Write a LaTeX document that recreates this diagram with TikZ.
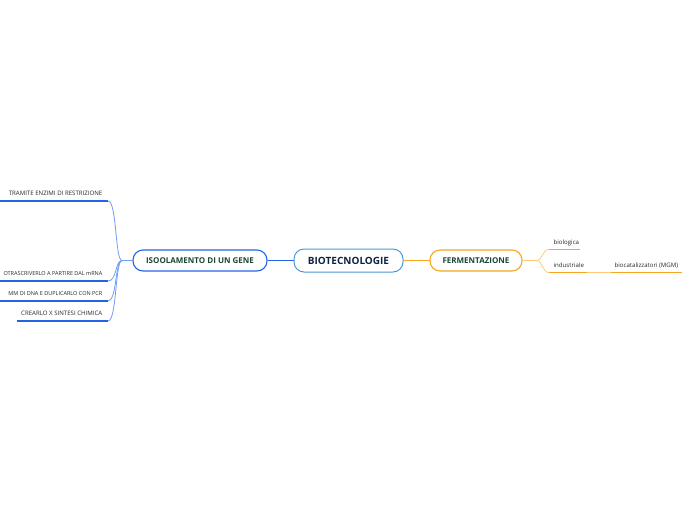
\documentclass[tikz,border=0pt]{standalone}
\usepackage{fontspec}
\setmainfont{Open Sans}
\usetikzlibrary{calc}
\definecolor{bordoblu}{HTML}{4A9AD8}
\definecolor{blu}{HTML}{2563E6}
\definecolor{blulinea}{HTML}{6F9CF5}
\definecolor{arancio}{HTML}{F5A623}
\definecolor{arancioch}{HTML}{FFCB7A}
\definecolor{navy}{HTML}{0F2341}
\definecolor{verdescuro}{HTML}{1B4537}
\begin{document}
\begin{tikzpicture}[x=1pt,y=-1pt,
  centro/.style={draw=bordoblu,line width=1pt,rounded corners=10pt,fill=white,
    minimum width=109pt,minimum height=23pt,font=\fontsize{10}{12}\selectfont\bfseries,text=navy},
  ramo/.style={draw,line width=1.1pt,rounded corners=10pt,fill=white,
    minimum height=21pt,font=\fontsize{8}{10}\selectfont\bfseries,text=verdescuro},
  foglia/.style={font=\fontsize{6.1}{7}\selectfont,inner sep=0.5pt,text=black!85},
  stretta/.style={font=\fontsize{5.5}{7}\selectfont},
  sotto/.style={line width=1.5pt}]
  \useasboundingbox (0,0) rectangle (696,520);
  \node[centro] (bio) at (348.5,260.5) {BIOTECNOLOGIE};
  \node[ramo,draw=blu,minimum width=134pt] (iso) at (200,260.5) {ISOOLAMENTO DI UN GENE};
  \node[ramo,draw=arancio,minimum width=92pt] (fer) at (476,260.5) {FERMENTAZIONE};
  \draw[blu,line width=0.8pt] (bio) -- (iso);
  \draw[arancio,line width=0.8pt] (bio) -- (fer);

  % rami a sinistra
  \coordinate (gi) at (122,260.5);
  \draw[blulinea,line width=0.8pt] (iso.west) -- (gi);
  \foreach \y/\lab/\xs/\st [count=\i] in {201/{TRAMITE ENZIMI DI RESTRIZIONE}/0/foglia,
      281/{OTRASCRIVERLO A PARTIRE DAL mRNA}/0/stretta,
      301/{MM DI DNA E DUPLICARLO CON PCR}/0/stretta,
      321/{CREARLO X SINTESI CHIMICA}/17/foglia}{
    \node[foglia,\st,anchor=base east] (s\i) at (103,\y-5.5) {\lab};
    \coordinate (e\i) at (108,\y);
    \draw[blu,sotto] (\xs,\y) -- (e\i);
    \draw[blulinea,line width=0.8pt] (gi) .. controls (115,260.5) and (117,\y) .. (e\i);
  }

  % rami a destra
  \coordinate (gf) at (536,260.5);
  \draw[arancioch,line width=0.8pt] (fer.east) -- (gf);
  \node[foglia,anchor=base west] (bl) at (553,244.5) {biologica};
  \node[foglia,anchor=base west] (in) at (553,267) {industriale};
  \node[foglia,anchor=base west] (bc) at (614,267) {biocatalizzatori (MGM)};
  \coordinate (b1) at (549,249.5);
  \coordinate (b2) at (549,272.5);
  \coordinate (b3) at (587,272.5);
  \coordinate (b4) at (611,272.5);
  \draw[arancio,sotto] (b1) -- (580,249.5);
  \draw[arancio,sotto] (b2) -- (b3);
  \draw[arancio,sotto] (b4) -- (682,272.5);
  \draw[arancioch,line width=0.8pt] (b3) -- (b4);
  \draw[arancioch,line width=0.8pt] (gf) .. controls (543,260.5) and (542,249.5) .. (b1);
  \draw[arancioch,line width=0.8pt] (gf) .. controls (543,260.5) and (542,272.5) .. (b2);
\end{tikzpicture}
\end{document}
